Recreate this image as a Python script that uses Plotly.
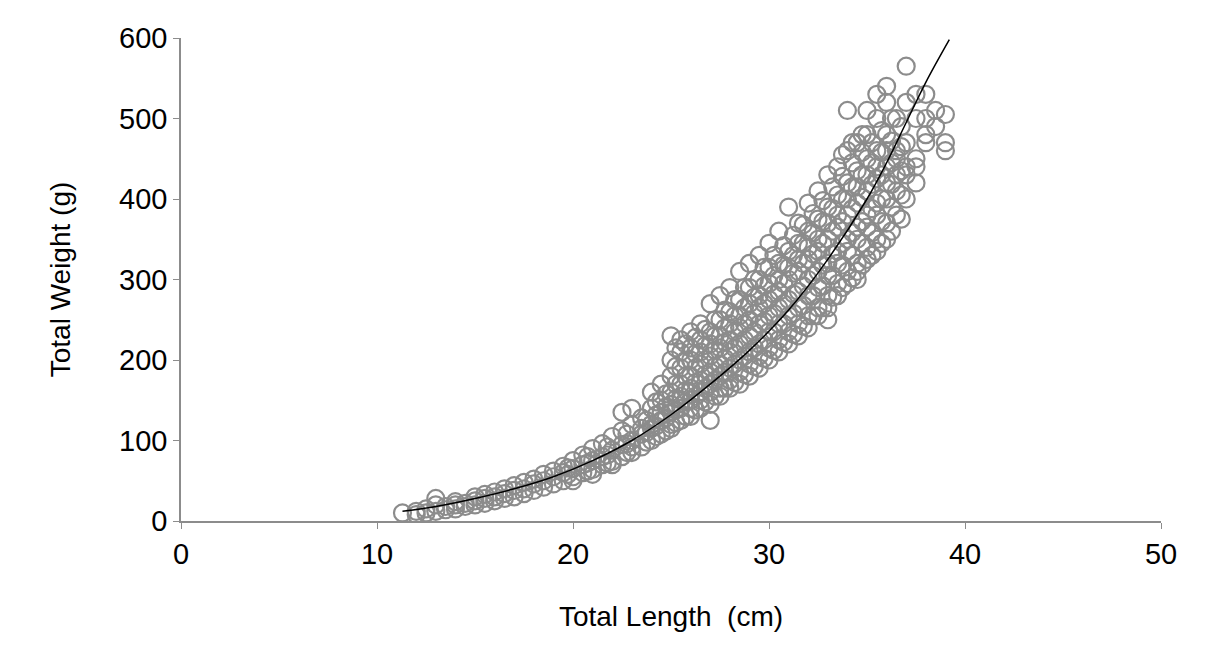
import plotly.graph_objects as go

# observed points, grouped by length slice (cm) -> weights (g)
slice_len = [11.3, 12, 12.5, 13, 13.5, 14, 14.5, 15, 15.5, 16, 16.5, 17, 17.5, 18, 18.5,
             19, 19.5, 20, 20.5, 21, 21.5, 22, 22.5, 23, 23.5, 24, 24.5, 25, 25.5, 26,
             26.5, 27, 27.5, 28, 28.5, 29, 29.5, 30, 30.5, 31, 31.5, 32, 32.5, 33, 33.5,
             34, 34.5, 35, 35.5, 36, 36.5, 37, 37.5, 38, 38.5, 39]
slice_wt = [
    [10], [12, 8], [15, 10], [20, 12, 28], [14, 18], [20, 15, 24], [22, 18], [25, 20, 30],
    [28, 22, 33], [30, 25, 36], [34, 28, 40], [38, 30, 44], [40, 34, 48], [46, 38, 52],
    [50, 42, 58], [55, 46, 62], [60, 50, 68], [65, 55, 75, 50], [70, 60, 82],
    [75, 64, 90, 58], [80, 70, 96], [88, 74, 105, 70], [95, 80, 112, 135],
    [100, 85, 120, 140, 92], [108, 92, 128, 115], [115, 100, 140, 120, 160],
    [125, 108, 150, 170, 135], [135, 115, 160, 200, 230, 145, 120, 180],
    [140, 125, 170, 210, 225, 190, 155], [150, 130, 180, 215, 235, 200, 165, 140],
    [160, 140, 195, 225, 245, 175, 150, 210], [170, 145, 205, 235, 270, 185, 160, 125, 220],
    [180, 155, 215, 250, 280, 195, 165, 230], [190, 165, 225, 260, 290, 210, 175, 245],
    [200, 170, 240, 275, 310, 220, 185, 255], [210, 180, 250, 290, 320, 230, 195, 270],
    [220, 190, 265, 300, 330, 245, 205, 280], [235, 200, 275, 315, 345, 255, 215, 295],
    [245, 210, 285, 320, 360, 265, 225, 300], [255, 220, 300, 335, 390, 275, 235, 315],
    [265, 230, 310, 345, 370, 285, 245, 325], [280, 240, 325, 360, 395, 300, 255, 340],
    [290, 255, 335, 375, 410, 310, 265, 350], [305, 265, 350, 390, 430, 320, 280, 250, 370],
    [320, 280, 365, 405, 440, 335, 295, 380], [335, 295, 380, 420, 460, 350, 310, 510, 400],
    [350, 310, 395, 435, 470, 365, 320, 300, 415], [365, 325, 410, 450, 480, 380, 340, 510, 430],
    [380, 335, 425, 460, 500, 395, 350, 530, 440], [400, 350, 440, 480, 520, 420, 370, 540, 460],
    [410, 380, 450, 500, 460, 430], [430, 400, 470, 520, 565, 440], [420, 450, 500, 530, 440],
    [480, 500, 530, 470], [490, 510], [460, 505, 470],
]

# extra points filling the dense band, offset slices
fill_len = [19.75, 20.75, 21.75, 22.75, 23.75, 24.25, 24.75, 25.25, 25.75, 26.25, 26.75,
            27.25, 27.75, 28.25, 28.75, 29.25, 29.75, 30.25, 30.75, 31.25, 31.75, 32.25,
            32.75, 33.25, 33.75, 34.25, 34.75, 35.25, 35.75, 36.25, 36.75]
fill_wt = [
    [58, 66], [62, 72, 80], [72, 82, 92], [85, 96, 108], [98, 110, 125],
    [105, 118, 132, 148], [112, 128, 142, 158], [122, 138, 152, 170, 192, 215],
    [130, 148, 162, 180, 200, 220], [138, 155, 172, 190, 208, 228],
    [148, 165, 182, 200, 218, 238], [155, 175, 192, 212, 230, 250],
    [165, 185, 202, 222, 240, 262], [172, 195, 215, 235, 255, 275],
    [182, 205, 225, 245, 265, 290], [192, 215, 235, 258, 278, 300],
    [202, 225, 248, 270, 292, 315], [212, 235, 258, 282, 305, 330],
    [222, 245, 270, 295, 318, 342], [232, 258, 282, 308, 330, 355],
    [242, 268, 292, 320, 345, 368], [255, 280, 305, 332, 358, 382],
    [265, 292, 318, 345, 372, 398], [278, 305, 332, 360, 388, 415],
    [290, 318, 345, 372, 400, 428, 455], [302, 330, 358, 388, 415, 445, 470],
    [318, 345, 372, 402, 430, 458, 480], [330, 358, 388, 418, 445, 470],
    [345, 372, 400, 430, 458, 485], [360, 390, 418, 445, 472, 500], [375, 405, 435, 465, 490],
]

# fitted curve
fit_len = [11.3, 13, 15, 17, 19, 21, 23, 25, 27, 29, 31, 33, 35, 36, 37, 38, 39.2]
fit_wt = [12, 18, 28, 40, 55, 75, 100, 132, 170, 212, 262, 325, 400, 445, 495, 545, 598]

length_cm = [x for x, ys in zip(slice_len + fill_len, slice_wt + fill_wt) for _ in ys]
weight_g = [y for ys in slice_wt + fill_wt for y in ys]

fig = go.Figure()
fig.add_scatter(x=length_cm, y=weight_g, mode="markers",
                marker=dict(symbol="circle-open", size=17, color="#8c8c8c",
                            line=dict(width=2.2, color="#8c8c8c")),
                showlegend=False)
fig.add_scatter(x=fit_len, y=fit_wt, mode="lines", line=dict(color="black", width=1.5, shape="spline"),
                showlegend=False)

axis_style = dict(showline=True, linecolor="#8c8c8c", linewidth=1.5, showgrid=False,
                  zeroline=False, ticks="outside", tickcolor="#8c8c8c", ticklen=6,
                  tickfont=dict(size=29, color="black"))
fig.update_xaxes(range=[0, 50], dtick=10,
                 title=dict(text="Total Length  (cm)", font=dict(size=28), standoff=38),
                 **axis_style)
fig.update_yaxes(range=[0, 600], dtick=100,
                 title=dict(text="Total Weight (g)", font=dict(size=28), standoff=40),
                 **axis_style)
fig.update_layout(width=1210, height=660, plot_bgcolor="white", paper_bgcolor="white",
                  font=dict(family="Liberation Sans, Arial", color="black"),
                  margin=dict(l=173, r=57, t=30, b=147, autoexpand=False))

fig.write_html("out.html")
